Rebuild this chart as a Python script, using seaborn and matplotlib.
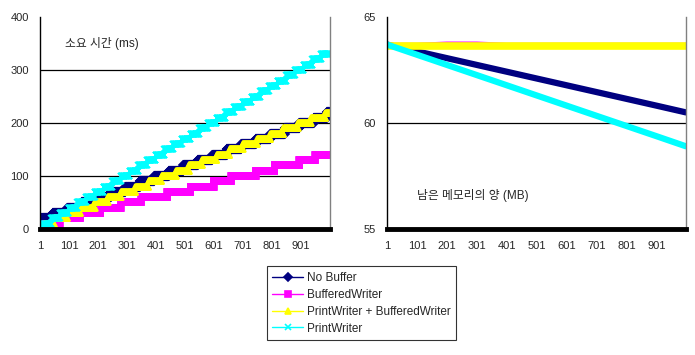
import numpy as np
import pandas as pd
import matplotlib
matplotlib.use('Agg')
import matplotlib.pyplot as plt
import seaborn as sns

sns.set_style('white')
plt.rcParams['font.family'] = ['Liberation Sans', 'Noto Sans CJK KR']

# series names / colours (Excel classic palette)
names = ['No Buffer', 'BufferedWriter', 'PrintWriter + BufferedWriter', 'PrintWriter']
colors = ['#000080', '#FF00FF', '#FFFF00', '#00FFFF']
markers = ['D', 's', '^', 'x']

# elapsed time (ms): iteration where each step starts, and its level
nobuf_start = [1, 45, 95, 145, 195, 245, 295, 345, 395, 445, 495, 545, 595, 645, 695, 745, 795, 845, 895, 945, 990]
nobuf_level = [20, 30, 40, 50, 60, 70, 80, 90, 100, 110, 120, 130, 140, 150, 160, 170, 180, 190, 200, 210, 220]

bw_start = [1, 20, 70, 140, 210, 280, 350, 440, 520, 600, 660, 745, 810, 895, 950]
bw_level = [0, 10, 20, 30, 40, 50, 60, 70, 80, 90, 100, 110, 120, 130, 140]

pwbw_start = [1, 15, 50, 95, 140, 190, 235, 280, 330, 375, 420, 470, 515, 560, 610, 655, 700, 750, 795, 840, 890, 935, 985]
pwbw_level = [0, 10, 20, 30, 40, 50, 60, 70, 80, 90, 100, 110, 120, 130, 140, 150, 160, 170, 180, 190, 200, 210, 218]

pw_start = [1, 10, 40, 70, 100, 130, 160, 190, 220, 250, 280, 310, 340, 370, 400, 430, 460, 490,
            520, 550, 580, 610, 640, 670, 700, 730, 760, 790, 820, 850, 880, 910, 940, 970]
pw_level = [0, 10, 20, 30, 40, 50, 60, 70, 80, 90, 100, 110, 120, 130, 140, 150, 160, 170,
            180, 190, 200, 210, 220, 230, 240, 250, 260, 270, 280, 290, 300, 310, 320, 330]

# remaining memory (MB) read every 100 iterations
mem_x = [1, 101, 201, 301, 401, 501, 601, 701, 801, 901, 1000]
mem_nobuf = [63.7, 63.38, 63.06, 62.74, 62.42, 62.1, 61.78, 61.46, 61.14, 60.82, 60.5]
mem_bw = [63.72, 63.72, 63.78, 63.78, 63.72, 63.72, 63.72, 63.72, 63.72, 63.72, 63.72]
mem_pwbw = [63.62, 63.62, 63.62, 63.62, 63.62, 63.62, 63.62, 63.62, 63.62, 63.62, 63.62]
mem_pw = [63.7, 63.22, 62.74, 62.26, 61.78, 61.3, 60.82, 60.34, 59.86, 59.38, 58.9]

n_iter = 1000
iters = np.arange(1, n_iter + 1)


def expand(starts, levels):
    runs = np.diff(starts + [n_iter + 1])
    return np.repeat(levels, runs)


time_series = [expand(nobuf_start, nobuf_level), expand(bw_start, bw_level),
               expand(pwbw_start, pwbw_level), expand(pw_start, pw_level)]
mem_series = [mem_nobuf, mem_bw, mem_pwbw, mem_pw]

fig = plt.figure(figsize=(6.95, 3.55), dpi=100)
ax1 = fig.add_axes([0.0576, 0.355, 0.417, 0.597])
ax2 = fig.add_axes([0.557, 0.355, 0.430, 0.597])

msizes = [4, 4.3, 4, 4.5]
for ys, name, c, m, ms in zip(time_series, names, colors, markers, msizes):
    sns.lineplot(x=iters, y=ys, ax=ax1, color=c, marker=m, markersize=ms,
                 markeredgecolor=c, markeredgewidth=1.2, linewidth=1, label=name,
                 legend=False)

lws = [4.5, 2, 5.5, 4.5]
for ys, name, c, lw in zip(mem_series, names, colors, lws):
    sns.lineplot(x=mem_x, y=ys, ax=ax2, color=c, linewidth=lw, legend=False)

xt = [1, 101, 201, 301, 401, 501, 601, 701, 801, 901]
for ax in (ax1, ax2):
    ax.set_xlim(1, n_iter)
    ax.set_xticks(xt)
    ax.set_xticklabels([str(v) for v in xt], fontsize=8)
    ax.tick_params(axis='x', length=0, pad=9)
    ax.tick_params(axis='y', length=0, pad=8, labelsize=8)
    ax.set_xlabel('')
    ax.set_ylabel('')
    ax.spines['top'].set_visible(False)
    ax.spines['left'].set_color('black')
    ax.spines['left'].set_linewidth(1)
    ax.spines['right'].set_color('#808080')
    ax.spines['right'].set_linewidth(1)
    ax.spines['bottom'].set_color('black')
    ax.spines['bottom'].set_linewidth(3.5)
    ax.grid(False)

ax1.set_ylim(0, 400)
ax1.set_yticks([0, 100, 200, 300, 400])
for g in [100, 200, 300]:
    ax1.axhline(g, color='black', linewidth=0.9, zorder=0)
ax1.text(0.086, 0.873, '소요 시간 (ms)', transform=ax1.transAxes, fontsize=8.5,
         va='center', ha='left')

ax2.set_ylim(55, 65)
ax2.set_yticks([55, 60, 65])
ax2.axhline(60, color='black', linewidth=0.9, zorder=0)
ax2.text(0.1, 0.16, '남은 메모리의 양 (MB)', transform=ax2.transAxes, fontsize=8.5,
         va='center', ha='left')

handles, labels = ax1.get_legend_handles_labels()
leg = fig.legend(handles, labels, loc='center', bbox_to_anchor=(0.52, 0.146),
                 fontsize=8.5, frameon=True, fancybox=False, handlelength=2.6,
                 borderpad=0.45, labelspacing=0.42, handletextpad=0.3,
                 borderaxespad=0)
leg.get_frame().set_edgecolor('black')
leg.get_frame().set_linewidth(0.8)
for h in leg.legend_handles:
    h.set_markersize(4)

fig.savefig('out.png', dpi=100)
